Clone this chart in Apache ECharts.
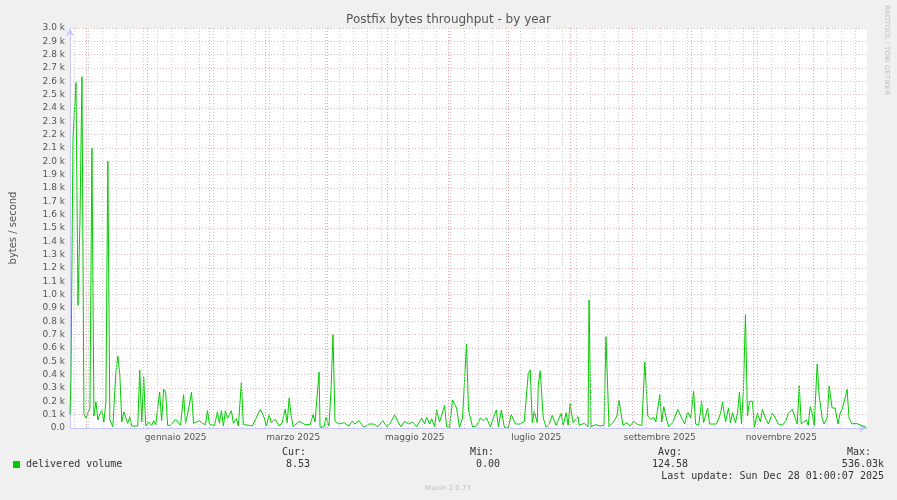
<!DOCTYPE html>
<html><head><meta charset="utf-8">
<script src="https://cdn.jsdelivr.net/npm/echarts@6/dist/echarts.min.js"></script>
<style>html,body{margin:0;padding:0;background:#f0f0f0}#c{width:897px;height:500px}</style>
</head><body><div id="c"></div>
<script>
// x positions in half-days since 2024-11-23 00:00 (range 0..800)
const halfDays = [0,1,3,6,8,10,12,14,16,20,22,24,26,28,30,32,34,36,38,40,43,46,48,50,52,54,56,58,60,62,68,70,72,74,76,79,82,84,86,90,92,94,96,98,101,106,111,114,116,119,122,124,126,130,133,136,138,140,145,148,150,152,154,156,158,162,164,167,169,172,174,180,
183,191,195,197,200,202,206,210,213,216,218,220,222,224,230,236,241,244,246,250,251,255,257,260,262,264,266,270,275,280,283,286,290,295,300,305,309,314,318,321,326,329,332,336,340,344,348,353,356,358,361,363,366,368,371,376,378,381,384,388,391,394,398,400,404,408,412,415,418,422,425,428,430,433,436,440,443,447,452,456,460,462,464,466,469,470,472,475,478,481,484,
488,493,495,498,500,502,505,510,511,516,520,521,523,528,532,536,538,541,545,549,551,555,559,562,566,570,574,575,577,580,583,586,588,592,594,596,599,601,605,610,614,617,620,623,626,628,631,634,636,640,642,645,649,653,655,658,661,663,665,668,670,672,674,676,678,680,682,685,687,690,693,695,698,701,705,708,711,715,719,721,725,727,730,732,734,736,739,741,743,745,747,750,752,755,757,760,762,765,768,771,773,775,778,780,782,785,788,791,793,796,799];
const delivered = [100,380,2175,2590,920,1545,2635,100,75,150,2100,90,195,60,110,130,45,195,2000,60,10,410,540,400,45,120,120,35,85,15,15,435,45,380,15,45,20,55,25,270,55,290,270,20,20,65,20,250,35,140,270,35,35,55,35,25,130,25,20,120,35,130,15,130,70,130,35,70,15,340,25,20,
15,140,75,15,100,40,65,15,40,140,40,225,90,10,50,25,25,100,45,420,5,10,80,15,285,700,50,30,40,15,50,30,55,5,30,30,10,55,10,30,100,50,10,50,30,45,10,75,30,80,30,70,10,135,45,170,10,5,210,150,5,75,630,135,10,15,75,55,75,10,75,135,10,135,5,5,100,30,30,50,410,435,40,125,40,320,430,75,5,30,95,
20,110,20,115,20,185,40,85,20,35,10,960,10,25,15,20,685,10,40,90,210,20,40,15,50,25,20,10,495,90,65,80,45,250,45,160,60,10,40,140,75,30,120,75,275,30,20,200,40,150,30,30,30,110,195,45,150,40,115,40,110,270,30,295,850,90,200,200,10,110,45,140,75,30,110,75,30,20,60,110,140,125,30,320,30,40,60,20,160,110,20,480,240,75,30,75,315,150,150,30,110,140,225,290,75,30,35,30,15,15,5];
const monthStarts = [16,78,140,196,258,318,380,440,502,564,624,686,746];
const labelPos = [106,224,346,468,592,714];
const labelText = ['gennaio 2025','marzo 2025','maggio 2025','luglio 2025','settembre 2025','novembre 2025'];
const firstMonday = 4;

const weekLines = [];
for (let w = firstMonday; w < 800; w += 14) weekLines.push({xAxis: w});
const monthLines = monthStarts.map(m => ({xAxis: m}));
const mono = 'DejaVu Sans Mono';
const F = '10px ' + mono;
const chart = echarts.init(document.getElementById('c'));
chart.setOption({
  backgroundColor: '#f0f0f0',
  animation: false,
  title: {text: 'Postfix bytes throughput - by year', left: 'center', top: 9,
    textStyle: {fontFamily: 'DejaVu Sans', fontSize: 12, fontWeight: 'normal', color: '#555'}},
  grid: {left: 67, right: 30, top: 28, bottom: 72, backgroundColor: '#fff', show: true, borderWidth: 0},
  xAxis: {type: 'value', min: 0, max: 800,
    axisLine: {lineStyle: {color: '#c8c8ff'}, symbol: ['none','arrow'], symbolSize: [6,8]},
    axisTick: {show: false}, splitLine: {show: false},
    axisLabel: {customValues: labelPos, formatter: v => labelText[labelPos.indexOf(v)],
      fontFamily: 'DejaVu Sans', fontSize: 9, color: '#555', margin: 5}},
  yAxis: {type: 'value', min: 0, max: 3000, interval: 100,
    name: 'bytes / second', nameLocation: 'middle', nameGap: 52,
    nameTextStyle: {fontFamily: 'DejaVu Sans', fontSize: 10, color: '#555'},
    axisLine: {show: true, lineStyle: {color: '#c8c8ff'}, symbol: ['none','arrow'], symbolSize: [6,8]},
    axisTick: {show: false},
    axisLabel: {formatter: v => v === 0 ? '0.0' : (v/1000).toFixed(1) + ' k',
      fontFamily: 'DejaVu Sans', fontSize: 9, color: '#555', margin: 5},
    splitLine: {lineStyle: {color: '#e3b8b8', type: [1,2], width: 1}}},
  series: [
    {type: 'line', data: [], silent: true,
      markLine: {silent: true, symbol: 'none', label: {show: false},
        lineStyle: {color: '#cccccc', type: [1,2], width: 1}, data: weekLines}},
    {type: 'line', data: [], silent: true,
      markLine: {silent: true, symbol: 'none', label: {show: false},
        lineStyle: {color: '#e8a0a0', type: [1,2], width: 1}, data: monthLines}},
    {type: 'line', name: 'delivered volume', data: halfDays.map((d, i) => [d, delivered[i]]),
      showSymbol: false, lineStyle: {color: '#00cc00', width: 1}, itemStyle: {color: '#00cc00'}}
  ],
  graphic: [
    {type: 'text', right: 7, top: 5, rotation: -Math.PI/2, style: {text: 'RRDTOOL / TOBI OETIKER',
      fontFamily: 'DejaVu Sans', fontSize: 7, fill: '#c0c0c0'}},
    {type: 'rect', shape: {x: 13, y: 461, width: 7, height: 7}, style: {fill: '#00cc00'}},
    {type: 'text', x: 26, y: 459, style: {text: 'delivered volume', font: F, fill: '#333'}},
    {type: 'text', x: 306, y: 447, style: {text: 'Cur:', font: F, fill: '#333', align: 'right'}},
    {type: 'text', x: 310, y: 459, style: {text: '8.53', font: F, fill: '#333', align: 'right'}},
    {type: 'text', x: 494, y: 447, style: {text: 'Min:', font: F, fill: '#333', align: 'right'}},
    {type: 'text', x: 500, y: 459, style: {text: '0.00', font: F, fill: '#333', align: 'right'}},
    {type: 'text', x: 682, y: 447, style: {text: 'Avg:', font: F, fill: '#333', align: 'right'}},
    {type: 'text', x: 688, y: 459, style: {text: '124.58', font: F, fill: '#333', align: 'right'}},
    {type: 'text', x: 871, y: 447, style: {text: 'Max:', font: F, fill: '#333', align: 'right'}},
    {type: 'text', x: 884, y: 459, style: {text: '536.03k', font: F, fill: '#333', align: 'right'}},
    {type: 'text', x: 884, y: 471, style: {text: 'Last update: Sun Dec 28 01:00:07 2025', font: F, fill: '#333', align: 'right'}},
    {type: 'text', x: 448, y: 485, style: {text: 'Munin 2.0.73', font: '7px DejaVu Sans', fill: '#c0c0c0', align: 'center'}}
  ]
});
</script></body></html>
